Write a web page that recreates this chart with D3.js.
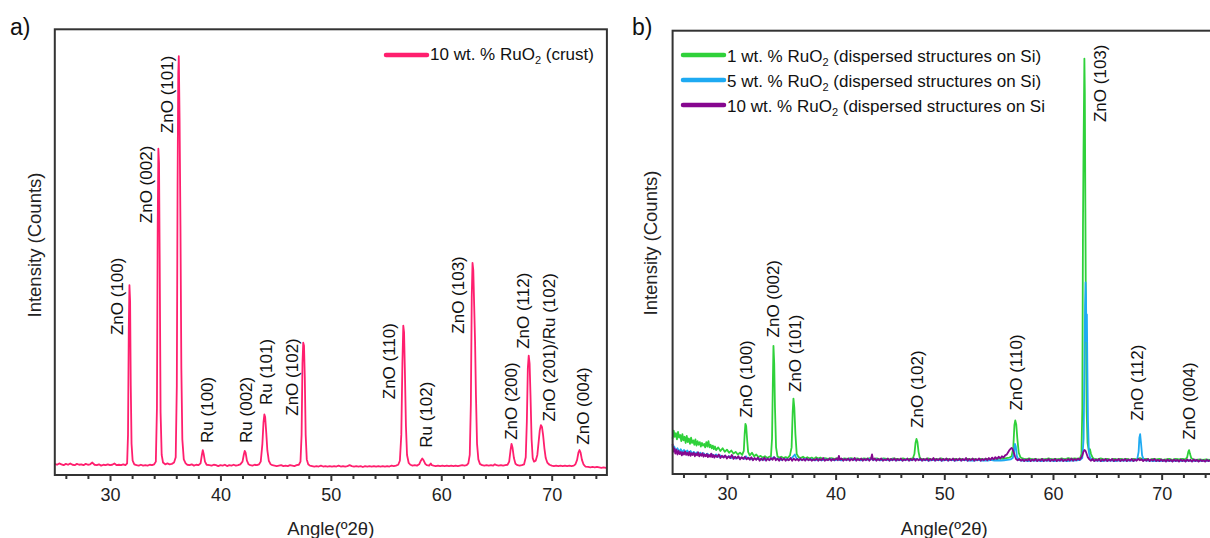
<!DOCTYPE html>
<html>
<head>
<meta charset="utf-8">
<script src="https://cdn.jsdelivr.net/npm/d3@7"></script>
<style>
  html, body { margin: 0; padding: 0; background: #fff; }
  svg { display: block; font-family: "Liberation Sans", Arial, Helvetica, sans-serif; }
</style>
</head>
<body>
<svg id="chart" width="1210" height="538"></svg>
<script>
// ---------------- DATA ----------------
const angleTicks = [30, 40, 50, 60, 70];
const minorTicks = [26, 28, 32, 34, 36, 38, 42, 44, 46, 48, 52, 54, 56, 58, 62, 64, 66, 68, 72, 74];

// Panel a: 10 wt.% RuO2 (crust)  [angle 2θ, intensity]
const crust = [
[25.0,25],[25.2,23],[25.4,26],[25.6,24],[25.8,22],[26.0,25],[26.2,23],[26.4,26],[26.6,23],[26.8,22],
[27.0,25],[27.2,23],[27.4,24],[27.6,22],[27.8,25],[28.0,23],[28.2,24],[28.4,28],[28.6,23],[28.8,22],
[29.0,24],[29.2,21],[29.4,23],[29.6,22],[29.8,24],[30.0,22],[30.2,23],[30.4,26],[30.6,22],[30.8,23],
[31.0,22],[31.2,24],[31.4,22],[31.55,26],[31.63,90],[31.7,330],[31.76,426],[31.82,390],[31.88,200],[31.95,70],
[32.05,32],[32.2,24],[32.4,22],[32.6,21],[32.8,23],[33.0,21],[33.2,22],[33.4,21],[33.6,23],[33.8,22],
[34.0,24],[34.15,30],[34.25,150],[34.32,560],[34.38,732],[34.44,700],[34.5,480],[34.58,140],[34.68,45],[34.8,28],
[35.0,24],[35.2,26],[35.4,24],[35.6,25],[35.8,28],[35.95,40],[36.05,200],[36.12,650],[36.18,900],[36.23,940],
[36.3,800],[36.38,560],[36.46,240],[36.55,80],[36.68,35],[36.85,26],[37.0,23],[37.2,22],[37.4,24],[37.6,21],
[37.8,23],[38.0,22],[38.2,26],[38.32,45],[38.4,56],[38.48,48],[38.6,30],[38.75,23],[39.0,22],[39.2,21],
[39.4,23],[39.6,22],[39.8,20],[40.0,22],[40.2,21],[40.4,23],[40.6,20],[40.8,22],[41.0,21],[41.2,23],
[41.4,21],[41.6,22],[41.8,24],[42.0,30],[42.12,46],[42.2,54],[42.28,50],[42.4,32],[42.55,24],[42.7,22],
[42.9,21],[43.1,23],[43.3,22],[43.5,24],[43.65,30],[43.8,70],[43.9,118],[43.98,136],[44.05,130],[44.15,95],
[44.25,55],[44.38,32],[44.55,24],[44.7,22],[44.9,21],[45.1,20],[45.3,21],[45.5,22],[45.7,20],[45.9,21],
[46.1,20],[46.3,22],[46.5,21],[46.7,20],[46.9,22],[47.1,23],[47.25,30],[47.35,90],[47.43,250],[47.5,297],
[47.57,290],[47.64,220],[47.72,90],[47.82,35],[47.95,24],[48.1,21],[48.3,20],[48.5,19],[48.7,20],[48.9,19],
[49.1,21],[49.3,19],[49.5,20],[49.7,19],[49.9,20],[50.1,19],[50.3,20],[50.5,19],[50.7,21],[50.9,19],
[51.1,20],[51.3,19],[51.5,20],[51.7,22],[51.9,20],[52.1,19],[52.3,20],[52.5,19],[52.7,20],[52.9,18],
[53.1,20],[53.3,19],[53.5,20],[53.7,19],[53.9,20],[54.1,19],[54.3,20],[54.5,19],[54.7,20],[54.9,19],
[55.1,20],[55.3,19],[55.5,21],[55.7,20],[55.9,21],[56.1,23],[56.25,32],[56.38,90],[56.48,250],[56.56,335],
[56.63,320],[56.7,240],[56.8,110],[56.9,45],[57.05,27],[57.2,23],[57.4,21],[57.6,22],[57.8,21],[58.0,24],
[58.15,32],[58.28,37],[58.4,33],[58.55,25],[58.7,22],[58.9,21],[59.05,26],[59.15,22],[59.3,21],[59.5,20],
[59.7,21],[59.9,20],[60.1,21],[60.3,20],[60.5,21],[60.7,20],[60.9,21],[61.1,20],[61.3,21],[61.5,20],
[61.7,21],[61.9,22],[62.1,21],[62.3,22],[62.45,26],[62.58,45],[62.68,160],[62.76,400],[62.83,476],[62.9,460],
[62.98,380],[63.06,300],[63.14,180],[63.24,70],[63.36,35],[63.5,25],[63.7,22],[63.9,21],[64.1,22],[64.3,21],
[64.5,22],[64.7,21],[64.85,24],[65.0,22],[65.2,21],[65.4,22],[65.6,21],[65.8,22],[66.0,23],[66.15,30],
[66.27,55],[66.36,70],[66.45,62],[66.58,38],[66.72,25],[66.9,22],[67.1,21],[67.3,22],[67.5,24],[67.65,40],
[67.75,120],[67.84,240],[67.92,268],[68.0,250],[68.08,180],[68.18,80],[68.28,38],[68.4,30],[68.55,32],[68.7,45],
[68.82,75],[68.92,100],[69.02,112],[69.12,108],[69.22,90],[69.34,60],[69.46,38],[69.6,28],[69.8,23],[70.0,21],
[70.2,20],[70.4,21],[70.6,20],[70.8,21],[71.0,20],[71.2,21],[71.4,20],[71.6,21],[71.8,20],[72.0,21],
[72.15,24],[72.3,34],[72.42,50],[72.52,56],[72.62,50],[72.74,34],[72.88,24],[73.05,19],[73.3,18],[73.5,17],
[73.7,18],[73.9,17],[74.1,18],[74.3,17],[74.5,16],[74.7,17],[74.9,16],[75.0,17]
];

// Panel b: 1 wt.% RuO2
const green1 = [
[25.0,80],[25.1,98],[25.2,84],[25.3,92],[25.4,78],[25.5,95],[25.6,82],[25.7,88],[25.8,74],[25.9,90],
[26.0,76],[26.1,84],[26.2,70],[26.3,86],[26.4,72],[26.5,80],[26.6,68],[26.7,82],[26.8,70],[26.9,76],
[27.0,66],[27.1,78],[27.2,64],[27.3,74],[27.4,66],[27.5,72],[27.6,62],[27.7,70],[27.8,64],[27.9,68],
[28.0,60],[28.1,72],[28.2,62],[28.3,74],[28.4,60],[28.5,66],[28.6,58],[28.7,64],[28.8,56],[28.9,62],
[29.0,54],[29.2,60],[29.4,52],[29.6,58],[29.8,50],[30.0,55],[30.2,48],[30.4,53],[30.6,46],[30.8,50],
[31.0,44],[31.2,48],[31.4,43],[31.55,52],[31.63,90],[31.7,113],[31.77,108],[31.85,80],[31.95,50],[32.1,42],
[32.3,48],[32.5,40],[32.7,44],[32.9,38],[33.1,41],[33.3,37],[33.5,40],[33.7,36],[33.9,39],[34.05,40],
[34.15,80],[34.22,200],[34.28,289],[34.35,250],[34.42,150],[34.52,60],[34.65,40],[34.8,37],[35.0,39],[35.2,36],
[35.4,38],[35.6,36],[35.8,42],[35.95,60],[36.05,140],[36.12,170],[36.2,150],[36.3,90],[36.42,45],[36.6,38],
[36.8,36],[37.0,39],[37.2,35],[37.4,38],[37.6,35],[37.8,37],[38.0,34],[38.2,38],[38.4,35],[38.6,37],
[38.8,34],[39.0,36],[39.3,34],[39.6,36],[39.9,34],[40.2,36],[40.5,33],[40.8,35],[41.1,34],[41.4,36],
[41.7,34],[42.0,35],[42.3,33],[42.6,35],[42.9,34],[43.2,36],[43.5,34],[43.8,35],[44.1,33],[44.4,35],
[44.7,34],[45.0,33],[45.3,35],[45.6,34],[45.9,33],[46.2,35],[46.5,33],[46.8,34],[47.1,35],[47.25,45],
[47.35,70],[47.44,79],[47.53,72],[47.63,50],[47.75,36],[47.9,34],[48.2,33],[48.5,35],[48.8,33],[49.1,34],
[49.4,33],[49.7,35],[50.0,33],[50.3,34],[50.6,32],[50.9,34],[51.2,33],[51.5,34],[51.8,32],[52.1,34],
[52.4,33],[52.7,34],[53.0,32],[53.3,34],[53.6,33],[53.9,34],[54.2,32],[54.5,34],[54.8,33],[55.1,35],
[55.4,34],[55.7,36],[56.0,37],[56.2,40],[56.35,60],[56.45,110],[56.53,121],[56.62,112],[56.72,80],[56.85,48],
[57.0,38],[57.2,35],[57.5,33],[57.8,35],[58.1,33],[58.4,34],[58.7,32],[59.0,34],[59.3,33],[59.6,35],
[59.9,33],[60.2,34],[60.5,33],[60.8,35],[61.1,33],[61.4,36],[61.7,34],[62.0,35],[62.3,34],[62.5,36],
[62.62,45],[62.7,150],[62.76,560],[62.81,729],[62.85,830],[62.89,937],[62.93,860],[62.98,600],[63.04,300],[63.1,140],
[63.18,70],[63.3,52],[63.4,56],[63.5,45],[63.65,37],[63.8,34],[64.1,33],[64.4,35],[64.7,33],[65.0,34],
[65.3,32],[65.6,34],[65.9,33],[66.2,34],[66.5,33],[66.8,34],[67.1,32],[67.4,34],[67.7,33],[68.0,36],
[68.3,33],[68.6,34],[68.9,32],[69.2,34],[69.5,33],[69.8,34],[70.1,32],[70.4,33],[70.7,34],[71.0,32],
[71.3,34],[71.6,33],[71.9,34],[72.2,33],[72.35,38],[72.45,50],[72.52,54],[72.6,46],[72.72,36],[72.9,33],
[73.2,32],[73.5,33],[73.8,32],[74.1,33],[74.4,32],[74.7,33],[75.0,32]
];

// Panel b: 5 wt.% RuO2
const blue5 = [
[25.0,55],[25.15,62],[25.3,52],[25.45,58],[25.6,50],[25.75,56],[25.9,49],[26.05,54],[26.2,48],[26.35,53],
[26.5,47],[26.65,52],[26.8,46],[26.95,50],[27.1,45],[27.25,49],[27.4,44],[27.55,48],[27.7,43],[27.85,47],
[28.0,42],[28.2,46],[28.4,41],[28.6,45],[28.8,40],[29.0,44],[29.2,39],[29.4,42],[29.6,38],[29.8,41],
[30.0,37],[30.2,40],[30.4,36],[30.6,39],[30.8,35],[31.0,38],[31.2,35],[31.4,37],[31.6,34],[31.75,40],
[31.9,35],[32.1,36],[32.3,33],[32.5,35],[32.7,33],[32.9,35],[33.1,32],[33.3,34],[33.5,32],[33.7,34],
[33.9,32],[34.1,34],[34.3,38],[34.45,36],[34.6,33],[34.8,34],[35.0,32],[35.3,34],[35.6,32],[35.9,34],
[36.1,40],[36.25,44],[36.4,35],[36.6,33],[36.9,32],[37.2,34],[37.5,32],[37.8,33],[38.1,31],[38.4,33],
[38.7,31],[39.0,33],[39.3,32],[39.6,33],[39.9,31],[40.2,33],[40.5,31],[40.8,33],[41.1,32],[41.4,34],
[41.7,32],[42.0,33],[42.3,31],[42.6,33],[42.9,32],[43.2,34],[43.5,32],[43.8,33],[44.1,31],[44.4,33],
[44.7,32],[45.0,31],[45.3,33],[45.6,31],[45.9,32],[46.2,31],[46.5,33],[46.8,31],[47.1,32],[47.4,34],
[47.7,32],[48.0,31],[48.3,32],[48.6,30],[48.9,32],[49.2,31],[49.5,32],[49.8,30],[50.1,32],[50.4,31],
[50.7,32],[51.0,30],[51.3,32],[51.6,31],[51.9,32],[52.2,30],[52.5,31],[52.8,30],[53.1,32],[53.4,30],
[53.7,31],[54.0,30],[54.3,32],[54.6,30],[54.9,31],[55.2,30],[55.5,31],[55.8,32],[56.1,33],[56.3,36],
[56.42,50],[56.5,68],[56.58,62],[56.68,40],[56.85,32],[57.1,30],[57.4,31],[57.7,29],[58.0,31],[58.3,30],
[58.6,31],[58.9,29],[59.2,31],[59.5,30],[59.8,31],[60.1,29],[60.4,31],[60.7,30],[61.0,31],[61.3,29],
[61.6,31],[61.9,30],[62.2,31],[62.5,32],[62.7,36],[62.82,80],[62.9,250],[62.95,380],[63.0,432],[63.04,400],
[63.08,300],[63.12,360],[63.16,250],[63.22,120],[63.3,50],[63.42,36],[63.6,32],[63.9,30],[64.2,31],[64.5,29],
[64.8,31],[65.1,30],[65.4,31],[65.7,29],[66.0,31],[66.3,30],[66.6,31],[66.9,30],[67.2,31],[67.5,30],
[67.75,33],[67.88,50],[67.95,82],[68.02,90],[68.1,70],[68.2,42],[68.35,32],[68.6,30],[68.9,31],[69.2,29],
[69.5,30],[69.8,29],[70.1,30],[70.4,29],[70.7,30],[71.0,29],[71.3,30],[71.6,29],[71.9,30],[72.2,29],
[72.5,31],[72.8,29],[73.1,30],[73.4,29],[73.7,30],[74.0,29],[74.3,30],[74.6,29],[75.0,30]
];

// Panel b: 10 wt.% RuO2
const purple10 = [
[25.0,68],[25.05,50],[25.15,58],[25.25,46],[25.35,55],[25.45,44],[25.55,52],[25.65,45],[25.75,50],[25.85,42],
[25.95,49],[26.05,44],[26.15,51],[26.25,43],[26.35,48],[26.45,42],[26.55,50],[26.65,41],[26.75,47],[26.85,43],
[26.95,48],[27.05,40],[27.15,46],[27.25,42],[27.35,49],[27.45,40],[27.55,45],[27.65,41],[27.75,47],[27.85,39],
[27.95,44],[28.05,40],[28.15,45],[28.25,38],[28.35,43],[28.45,39],[28.55,46],[28.65,38],[28.75,43],[28.85,37],
[28.95,42],[29.1,38],[29.25,44],[29.4,36],[29.55,41],[29.7,37],[29.85,42],[30.0,35],[30.15,40],[30.3,36],
[30.45,43],[30.6,34],[30.75,39],[30.9,35],[31.05,40],[31.2,33],[31.35,38],[31.5,34],[31.65,39],[31.8,33],
[31.95,37],[32.1,32],[32.25,38],[32.4,31],[32.55,36],[32.7,32],[32.85,37],[33.0,30],[33.15,35],[33.3,31],
[33.45,37],[33.6,30],[33.75,35],[33.9,31],[34.05,36],[34.2,32],[34.35,38],[34.5,31],[34.65,35],[34.8,30],
[34.95,36],[35.1,31],[35.25,35],[35.4,30],[35.55,34],[35.7,31],[35.85,36],[36.0,30],[36.15,35],[36.3,31],
[36.45,34],[36.6,30],[36.75,35],[36.9,31],[37.05,34],[37.2,30],[37.35,35],[37.5,31],[37.65,34],[37.8,30],
[37.95,33],[38.1,31],[38.25,35],[38.4,30],[38.55,34],[38.7,31],[38.85,36],[39.0,30],[39.15,33],[39.3,31],
[39.45,35],[39.6,30],[39.75,34],[39.9,31],[40.05,35],[40.2,31],[40.3,41],[40.4,32],[40.55,35],[40.7,30],
[40.85,34],[41.0,31],[41.15,35],[41.3,30],[41.45,34],[41.6,31],[41.75,36],[41.9,30],[42.05,34],[42.2,31],
[42.35,35],[42.5,30],[42.65,34],[42.8,31],[42.95,35],[43.1,30],[43.25,34],[43.35,44],[43.45,31],[43.6,35],
[43.75,30],[43.9,34],[44.05,31],[44.2,35],[44.35,30],[44.5,33],[44.65,31],[44.8,35],[44.95,30],[45.1,34],
[45.25,31],[45.4,35],[45.55,30],[45.7,34],[45.85,31],[46.0,35],[46.15,30],[46.3,33],[46.45,31],[46.6,35],
[46.75,30],[46.9,34],[47.05,31],[47.2,35],[47.35,30],[47.5,34],[47.65,31],[47.8,35],[47.95,30],[48.1,34],
[48.25,31],[48.4,35],[48.55,30],[48.7,34],[48.85,31],[49.0,36],[49.15,30],[49.3,34],[49.45,31],[49.6,35],
[49.75,30],[49.9,34],[50.05,31],[50.2,35],[50.35,30],[50.5,34],[50.65,31],[50.8,35],[50.95,30],[51.1,34],
[51.25,31],[51.4,35],[51.55,30],[51.7,34],[51.85,31],[52.0,36],[52.15,30],[52.3,34],[52.45,31],[52.6,35],
[52.75,30],[52.9,34],[53.05,31],[53.2,35],[53.35,30],[53.5,34],[53.65,31],[53.8,35],[53.95,31],[54.1,36],
[54.25,32],[54.4,37],[54.55,33],[54.7,38],[54.85,34],[55.0,39],[55.15,35],[55.3,40],[55.45,37],[55.6,42],
[55.75,44],[55.9,50],[56.0,54],[56.1,57],[56.2,59],[56.3,55],[56.4,48],[56.5,40],[56.6,34],[56.75,31],
[56.9,34],[57.05,30],[57.2,33],[57.35,29],[57.5,33],[57.65,30],[57.8,34],[57.95,29],[58.1,33],[58.25,30],
[58.4,34],[58.55,29],[58.7,33],[58.85,30],[59.0,34],[59.15,29],[59.3,33],[59.45,30],[59.6,34],[59.75,29],
[59.9,33],[60.05,30],[60.2,34],[60.35,29],[60.5,33],[60.65,30],[60.8,34],[60.95,29],[61.1,33],[61.25,30],
[61.4,34],[61.55,30],[61.7,35],[61.85,30],[62.0,34],[62.15,31],[62.3,35],[62.45,32],[62.6,37],[62.7,42],
[62.8,50],[62.9,54],[63.0,52],[63.1,45],[63.2,38],[63.35,33],[63.5,30],[63.65,34],[63.8,29],[63.95,33],
[64.1,30],[64.25,34],[64.4,29],[64.55,33],[64.7,30],[64.85,34],[65.0,29],[65.15,33],[65.3,30],[65.45,34],
[65.6,29],[65.75,33],[65.9,30],[66.05,34],[66.2,29],[66.35,33],[66.5,30],[66.65,34],[66.8,29],[66.95,33],
[67.1,30],[67.25,34],[67.4,29],[67.55,33],[67.7,30],[67.85,34],[68.0,31],[68.15,33],[68.3,29],[68.45,33],
[68.6,30],[68.75,34],[68.9,29],[69.05,33],[69.2,30],[69.35,34],[69.5,29],[69.65,32],[69.8,29],[69.95,33],
[70.1,29],[70.25,32],[70.4,28],[70.55,33],[70.7,29],[70.85,32],[71.0,28],[71.15,33],[71.3,29],[71.45,32],
[71.6,28],[71.75,33],[71.9,29],[72.05,32],[72.2,28],[72.35,33],[72.5,29],[72.65,32],[72.8,28],[72.95,33],
[73.1,29],[73.25,32],[73.4,28],[73.55,32],[73.7,29],[73.85,31],[74.0,28],[74.15,32],[74.3,29],[74.45,31],
[74.6,28],[74.75,32],[74.9,29],[75.0,30]
];

// Peak annotations: [text, angle at label centre, intensity at label start]
const peakLabelsA = [
["ZnO (100)",30.63,314],["ZnO (002)",33.26,565],["ZnO (101)",35.16,767],["Ru (100)",38.79,72],
["Ru (002)",42.27,72],["Ru (101)",44.13,157],["ZnO (102)",46.48,133],["ZnO (110)",55.27,170],
["Ru (102)",58.58,61],["ZnO (103)",61.49,317],["ZnO (200)",66.32,79],["ZnO (112)",67.41,283],
["ZnO (201)/Ru (102)",69.76,120],["ZnO (004)",72.84,68]
];
const peakLabelsB = [
["ZnO (100)",31.73,127],["ZnO (002)",34.21,308],["ZnO (101)",36.23,185],["ZnO (102)",47.45,104],
["ZnO (110)",56.56,143],["ZnO (103)",64.30,794],["ZnO (112)",67.72,120],["ZnO (004)",72.47,77]
];

// Legend entries: [before subscript, subscript, after subscript]
const legendA = [["10 wt. % RuO","2"," (crust)"]];
const legendB = [
["1 wt. % RuO","2"," (dispersed structures on Si)"],
["5 wt. % RuO","2"," (dispersed structures on Si)"],
["10 wt. % RuO","2"," (dispersed structures on Si"]
];
const coloursA = ["#ff1f6e"];
const coloursB = ["#2fd13a", "#1eaaf2", "#86078f"];

// ---------------- DRAWING ----------------
const svg = d3.select("#chart");
svg.append("rect").attr("width", 1210).attr("height", 538).attr("fill", "#fff");

function drawPanel(o) {
  const x = d3.scaleLinear().domain([25, 75]).range([o.left, o.right]);
  const y = d3.scaleLinear().domain([0, 1000]).range([o.bottom, o.top]);
  const g = svg.append("g");

  // series
  const line = d3.line().x(d => x(d[0])).y(d => y(d[1]));
  o.series.forEach((s, i) => {
    g.append("path").datum(s).attr("d", line)
      .attr("fill", "none").attr("stroke", o.colours[i])
      .attr("stroke-width", 1.8).attr("stroke-linejoin", "round");
  });

  // frame
  g.append("rect").attr("x", o.left).attr("y", o.top)
    .attr("width", o.right - o.left).attr("height", o.bottom - o.top)
    .attr("fill", "none").attr("stroke", "#333").attr("stroke-width", 2);

  // axes
  const ax = g.append("g").attr("transform", `translate(0,${o.bottom})`)
    .call(d3.axisBottom(x).tickValues(angleTicks).tickSize(6).tickPadding(7).tickFormat(d3.format("d")));
  ax.select(".domain").remove();
  ax.selectAll("line").attr("stroke", "#333").attr("stroke-width", 2);
  ax.selectAll("text").attr("font-size", 18).attr("fill", "#222")
    .attr("font-family", "Liberation Sans, Arial, sans-serif");
  const mx = g.append("g").attr("transform", `translate(0,${o.bottom})`)
    .call(d3.axisBottom(x).tickValues(minorTicks).tickSize(4).tickFormat(""));
  mx.select(".domain").remove();
  mx.selectAll("line").attr("stroke", "#333").attr("stroke-width", 2);

  // axis titles
  g.append("text").attr("x", (o.left + o.right) / 2).attr("y", 535)
    .attr("text-anchor", "middle").attr("font-size", 18.5).attr("fill", "#222")
    .text("Angle(º2θ)");
  g.append("text").attr("transform", `translate(${o.ylabX},${o.ylabY}) rotate(-90)`)
    .attr("text-anchor", "middle").attr("dy", "0.35em")
    .attr("font-size", 18.5).attr("fill", "#222").text("Intensity (Counts)");

  // panel letter
  g.append("text").attr("x", o.letterX).attr("y", 35)
    .attr("font-size", 23).attr("fill", "#111").text(o.letter);

  // peak labels
  o.labels.forEach(l => {
    g.append("text")
      .attr("transform", `translate(${x(l[1])},${y(l[2])}) rotate(-90)`)
      .attr("dy", "0.36em").attr("text-anchor", "start")
      .attr("font-size", 17).attr("fill", "#111").text(l[0]);
  });

  // legend
  o.legend.forEach((e, i) => {
    const ly = o.legY + i * 25;
    g.append("line").attr("x1", o.legX).attr("x2", o.legX + 41)
      .attr("y1", ly).attr("y2", ly).attr("stroke", o.colours[i])
      .attr("stroke-width", 4.5).attr("stroke-linecap", "round");
    const t = g.append("text").attr("x", o.legX + 44).attr("y", ly + o.legDy)
      .attr("font-size", 17).attr("fill", "#111");
    t.append("tspan").text(e[0]);
    t.append("tspan").attr("font-size", 11).attr("dy", 4).text(e[1]);
    t.append("tspan").attr("dy", -4).text(e[2]);
  });
}

drawPanel({
  left: 54.8, right: 606.9, top: 29.3, bottom: 475,
  series: [crust], colours: coloursA, labels: peakLabelsA,
  legend: legendA, legX: 386, legY: 55, legDy: 5,
  ylabX: 35, ylabY: 245, letter: "a)", letterX: 10
});
drawPanel({
  left: 672.6, right: 1216, top: 30.7, bottom: 474,
  series: [green1, blue5, purple10], colours: coloursB, labels: peakLabelsB,
  legend: legendB, legX: 683, legY: 55, legDy: 6.5,
  ylabX: 651, ylabY: 243, letter: "b)", letterX: 632
});
</script>
</body>
</html>
